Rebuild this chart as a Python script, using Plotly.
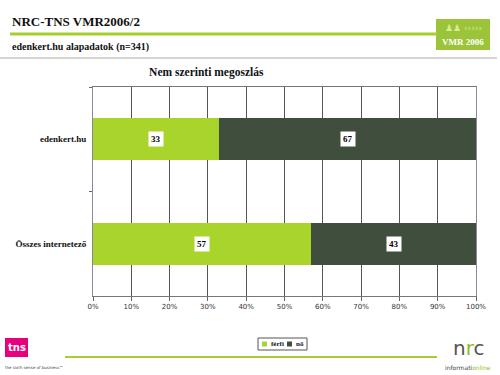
import plotly.graph_objects as go

categories = ["edenkert.hu", "Összes internetező"]
series_names = ["férfi", "nő"]
ferfi = [33, 57]
no = [67, 43]
tick_vals = [0, 10, 20, 30, 40, 50, 60, 70, 80, 90, 100]
tick_text = [f"{v}%" for v in tick_vals]

GREEN = "#A9D42C"
DARK = "#404E3E"
W, H = 500, 375
L, R, T, B = 93, 24, 87, 79
PW, PH = W - L - R, H - T - B

def px(x):
    return (x - L) / PW

def py(y):
    return (H - B - y) / PH

serif = "Liberation Serif"

fig = go.Figure()
fig.add_trace(go.Bar(y=categories, x=ferfi, name=series_names[0], orientation="h",
                     marker=dict(color=GREEN, line=dict(width=0)), width=0.4))
fig.add_trace(go.Bar(y=categories, x=no, name=series_names[1], orientation="h",
                     marker=dict(color=DARK, line=dict(width=0)), width=0.4))

annotations = []
for i, c in enumerate(categories):
    annotations.append(dict(x=ferfi[i] / 2, y=c, xref="x", yref="y", text=str(ferfi[i]),
                            showarrow=False, bgcolor="white", borderpad=2,
                            font=dict(family=serif, size=9, color="black", weight="bold")))
    annotations.append(dict(x=ferfi[i] + no[i] / 2, y=c, xref="x", yref="y", text=str(no[i]),
                            showarrow=False, bgcolor="white", borderpad=2,
                            font=dict(family=serif, size=9, color="black", weight="bold")))

# Header texts
annotations += [
    dict(x=px(10), y=py(31), xref="paper", yref="paper", xanchor="left", yanchor="bottom",
         text="NRC-TNS VMR2006/2", showarrow=False,
         font=dict(family=serif, size=13, color="#111", weight="bold")),
    dict(x=px(10), y=py(47), xref="paper", yref="paper", xanchor="left", yanchor="middle",
         text="edenkert.hu alapadatok (n=341)", showarrow=False,
         font=dict(family=serif, size=10, color="#111", weight="bold")),
    dict(x=px(463), y=py(42), xref="paper", yref="paper", xanchor="center", yanchor="middle",
         text="VMR 2006", showarrow=False,
         font=dict(family=serif, size=9, color="white", weight="bold")),
    dict(x=px(463), y=py(28), xref="paper", yref="paper", xanchor="center", yanchor="middle",
         text="♟♟ ›››››", showarrow=False,
         font=dict(family="DejaVu Sans", size=9, color="#D8EC90")),
    # footer
    dict(x=px(16.5), y=py(347), xref="paper", yref="paper", xanchor="center", yanchor="middle",
         text="tns", showarrow=False,
         font=dict(family="DejaVu Sans", size=10, color="white", weight="bold")),
    dict(x=px(3), y=py(367), xref="paper", yref="paper", xanchor="left", yanchor="middle",
         text="the sixth sense of business™", showarrow=False,
         font=dict(family="DejaVu Sans", size=4, color="#444")),
    dict(x=px(468), y=py(348), xref="paper", yref="paper", xanchor="center", yanchor="middle",
         text="<span style='color:#555'>n</span><span style='color:#8DBF1E'>r</span><span style='color:#555'>c</span>",
         showarrow=False, font=dict(family="DejaVu Sans", size=20)),
    dict(x=px(468), y=py(367), xref="paper", yref="paper", xanchor="center", yanchor="middle",
         text="<span style='color:#444'>informati</span><span style='color:#8DBF1E'>online</span>",
         showarrow=False, font=dict(family="DejaVu Sans", size=6)),
]

shapes = [
    dict(type="line", xref="paper", yref="paper", x0=px(10), x1=px(437), y0=py(34), y1=py(34),
         line=dict(color="#A4CF2C", width=3)),
    dict(type="line", xref="paper", yref="paper", x0=px(0), x1=px(497), y0=py(58), y1=py(58),
         line=dict(color="#AAAAAA", width=1)),
    dict(type="rect", xref="paper", yref="paper", x0=px(436), x1=px(490), y0=py(19), y1=py(50),
         fillcolor="#9CC43A", line=dict(width=0), layer="below"),
    dict(type="line", xref="paper", yref="paper", x0=px(65), x1=px(437), y0=py(357), y1=py(357),
         line=dict(color="#A4CF2C", width=2)),
    dict(type="rect", xref="paper", yref="paper", x0=px(5), x1=px(28), y0=py(338), y1=py(357),
         fillcolor="#E6007E", line=dict(width=0)),
]

# compact legend
legend_box = (258, 307, 338, 350)
shapes.append(dict(type="rect", xref="paper", yref="paper", x0=px(legend_box[0]), x1=px(legend_box[1]),
                   y0=py(legend_box[2]), y1=py(legend_box[3]), fillcolor="white",
                   line=dict(color="#555555", width=1)))
legend_items = [(series_names[0], GREEN, 262), (series_names[1], DARK, 287)]
for name, col, x0 in legend_items:
    shapes.append(dict(type="rect", xref="paper", yref="paper", x0=px(x0), x1=px(x0 + 5),
                       y0=py(341.5), y1=py(346.5), fillcolor=col, line=dict(width=0)))
    annotations.append(dict(x=px(x0 + 7), y=py(344), xref="paper", yref="paper", xanchor="left",
                            yanchor="middle", text=name, showarrow=False,
                            font=dict(family=serif, size=7, color="#111", weight="bold")))

fig.update_layout(
    width=W, height=H,
    margin=dict(l=L, r=R, t=T, b=B),
    paper_bgcolor="white", plot_bgcolor="white",
    barmode="stack",
    title=dict(text="Nem szerinti megoszlás", x=px(251), xanchor="center", y=1 - 72 / H, yanchor="middle",
               font=dict(family=serif, size=11.5, color="#111", weight="bold")),
    xaxis=dict(range=[0, 100], tickvals=tick_vals, ticktext=tick_text, showgrid=True,
               gridcolor="#555555", gridwidth=1, showline=True, linecolor="#777777", mirror=True,
               ticks="outside", ticklen=4, tickcolor="#666666",
               tickfont=dict(family="DejaVu Sans", size=7, color="#333"), zeroline=False),
    yaxis=dict(autorange="reversed", showline=True, linecolor="#8888A0", mirror=True,
               ticks="outside", ticklen=3, tickson="boundaries", tickcolor="#666",
               tickfont=dict(family=serif, size=9, color="#111", weight="bold"), ticklabelstandoff=4),
    showlegend=False,
    annotations=annotations,
    shapes=shapes,
)

fig.write_html("out.html", config={"displayModeBar": False},
               post_script="document.body.style.margin='0';document.body.style.padding='0';")
